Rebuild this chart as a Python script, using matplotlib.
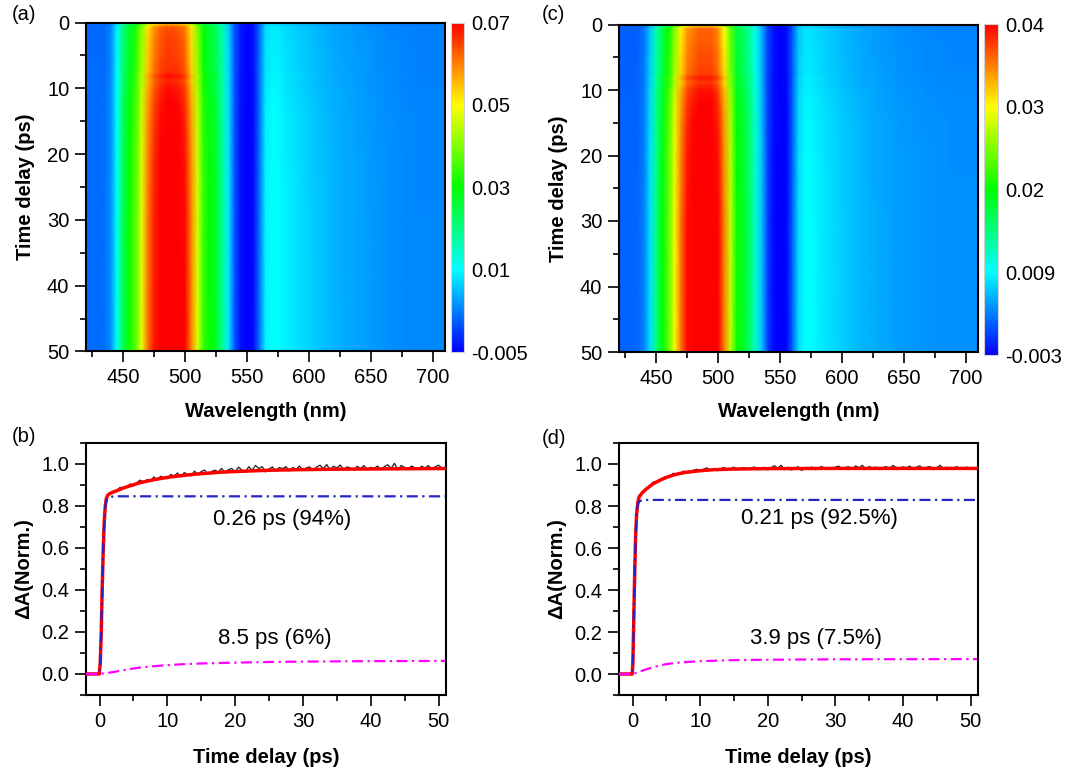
import numpy as np
import matplotlib
matplotlib.use('Agg')
import matplotlib.pyplot as plt
from matplotlib.colors import LinearSegmentedColormap, FuncNorm
from matplotlib.ticker import MultipleLocator, FormatStrFormatter

plt.rcParams['font.family'] = ['Liberation Sans', 'DejaVu Sans']
plt.rcParams['font.size'] = 14

# ---------------- heat-map data ----------------
wavelength = [420, 425, 430, 435, 440, 445, 450, 455, 460, 465, 470, 475, 480, 485, 490,
              495, 500, 505, 510, 515, 520, 525, 530, 535, 540, 545, 550, 555, 560, 565,
              570, 575, 580, 585, 590, 595, 600, 605, 610, 615, 620, 625, 630, 635, 640,
              645, 650, 655, 660, 665, 670, 675, 680, 685, 690, 695, 700, 705, 710]

spectrum_a = [0.0015, 0.0015, 0.0015, 0.0017, 0.0035, 0.011, 0.024, 0.031, 0.037, 0.048,
              0.061, 0.068, 0.072, 0.074, 0.074, 0.073, 0.070, 0.060, 0.047, 0.034,
              0.030, 0.027, 0.019, 0.009, 0.000, -0.004, -0.0055, -0.0045, 0.0015, 0.0095,
              0.0105, 0.0105, 0.0095, 0.009, 0.0085, 0.008, 0.0075, 0.007, 0.0066, 0.0062,
              0.0058, 0.0055, 0.0052, 0.005, 0.0047, 0.0045, 0.0042, 0.004, 0.0038, 0.0036,
              0.0034, 0.0033, 0.0032, 0.0031, 0.003, 0.003, 0.003, 0.003, 0.003]

spectrum_c = [0.0018, 0.0018, 0.0018, 0.0019, 0.003, 0.0075, 0.0145, 0.0195, 0.0235, 0.0295,
              0.0355, 0.0395, 0.041, 0.042, 0.042, 0.042, 0.040, 0.035, 0.0275, 0.0205,
              0.0185, 0.016, 0.0115, 0.0065, 0.000, -0.0025, -0.0035, -0.003, 0.0015, 0.0075,
              0.009, 0.009, 0.0085, 0.008, 0.0076, 0.0072, 0.0068, 0.0064, 0.0061, 0.0058,
              0.0055, 0.0053, 0.0051, 0.0049, 0.0047, 0.0045, 0.0044, 0.0043, 0.0042, 0.0041,
              0.004, 0.004, 0.0039, 0.0039, 0.0038, 0.0038, 0.0038, 0.0038, 0.0038]

time_map = [0, 0.3, 0.6, 1, 2, 3, 4, 5, 6, 7, 7.6, 8.2, 8.8, 10, 12, 15, 20, 25, 30, 40, 50]
kinetics_a = [0.35, 0.75, 0.84, 0.86, 0.87, 0.875, 0.88, 0.885, 0.89, 0.895, 0.9, 0.93, 0.905,
              0.925, 0.945, 0.96, 0.975, 0.985, 0.99, 0.995, 1.0]
kinetics_c = [0.35, 0.78, 0.85, 0.86, 0.865, 0.87, 0.875, 0.88, 0.885, 0.89, 0.895, 0.93, 0.9,
              0.935, 0.955, 0.97, 0.985, 0.99, 1.0, 1.0, 1.0]

levels_a = [-0.005, 0.01, 0.03, 0.05, 0.07]
labels_a = ['-0.005', '0.01', '0.03', '0.05', '0.07']
levels_c = [-0.003, 0.009, 0.02, 0.03, 0.04]
labels_c = ['-0.003', '0.009', '0.02', '0.03', '0.04']

# ---------------- kinetic traces ----------------
t_late = [2.0, 2.5, 3.0, 3.5, 4.0, 4.5, 5.0, 5.5, 6.0, 6.5,
          7.0, 7.5, 8.0, 8.5, 9.0, 9.5, 10.0, 10.5, 11.0, 11.5,
          12.0, 12.5, 13.0, 13.5, 14.0, 14.5, 15.0, 15.5, 16.0, 16.5,
          17.0, 17.5, 18.0, 18.5, 19.0, 19.5, 20.0, 20.5, 21.0, 21.5,
          22.0, 22.5, 23.0, 23.5, 24.0, 24.5, 25.0, 25.5, 26.0, 26.5,
          27.0, 27.5, 28.0, 28.5, 29.0, 29.5, 30.0, 30.5, 31.0, 31.5,
          32.0, 32.5, 33.0, 33.5, 34.0, 34.5, 35.0, 35.5, 36.0, 36.5,
          37.0, 37.5, 38.0, 38.5, 39.0, 39.5, 40.0, 40.5, 41.0, 41.5,
          42.0, 42.5, 43.0, 43.5, 44.0, 44.5, 45.0, 45.5, 46.0, 46.5,
          47.0, 47.5, 48.0, 48.5, 49.0, 49.5, 50.0, 50.5, 51.0]

t_early_b = [-2.0, -1.5, -1.0, -0.5, -0.2, 0.0, 0.1, 0.2, 0.3, 0.4, 0.5, 0.6, 0.7, 0.8,
             0.9, 1.0, 1.2, 1.4, 1.7]
y_early_b = [-0.003, 0.002, -0.002, 0.001, -0.002, 0.0, 0.05, 0.15, 0.3, 0.45, 0.6, 0.7,
             0.76, 0.80, 0.82, 0.835, 0.848, 0.856, 0.862]
y_late_b = [0.869, 0.866, 0.888, 0.886, 0.887, 0.904, 0.894, 0.910, 0.922, 0.912,
            0.924, 0.916, 0.937, 0.924, 0.940, 0.934, 0.929, 0.949, 0.942, 0.956,
            0.938, 0.958, 0.949, 0.942, 0.965, 0.948, 0.963, 0.970, 0.950, 0.963,
            0.969, 0.961, 0.978, 0.956, 0.972, 0.977, 0.960, 0.984, 0.970, 0.959,
            0.986, 0.969, 0.992, 0.977, 0.986, 0.961, 0.975, 0.985, 0.965, 0.982,
            0.977, 0.986, 0.966, 0.982, 0.974, 0.989, 0.969, 0.980, 0.985, 0.967,
            0.984, 0.993, 0.977, 0.996, 0.972, 0.988, 0.980, 0.994, 0.971, 0.985,
            0.980, 0.969, 0.988, 0.977, 0.991, 0.970, 0.983, 0.978, 0.989, 0.972,
            0.986, 0.995, 0.978, 1.002, 0.971, 0.992, 0.982, 0.973, 0.989, 0.981,
            0.972, 0.988, 0.980, 0.991, 0.974, 0.985, 0.993, 0.979, 0.983]

t_early_d = [-2.0, -1.5, -1.0, -0.5, -0.2, 0.0, 0.05, 0.1, 0.2, 0.3, 0.4, 0.5, 0.6, 0.7,
             0.8, 0.9, 1.0, 1.2, 1.5, 1.7]
y_early_d = [0.001, -0.002, 0.002, -0.001, 0.001, 0.0, 0.04, 0.12, 0.3, 0.45, 0.58, 0.68,
             0.76, 0.8, 0.82, 0.835, 0.845, 0.855, 0.866, 0.872]
y_late_d = [0.885, 0.890, 0.913, 0.916, 0.918, 0.935, 0.939, 0.936, 0.956, 0.953,
            0.952, 0.966, 0.963, 0.957, 0.970, 0.975, 0.963, 0.975, 0.982, 0.968,
            0.978, 0.968, 0.977, 0.983, 0.973, 0.978, 0.985, 0.972, 0.980, 0.983,
            0.973, 0.981, 0.986, 0.975, 0.980, 0.984, 0.972, 0.983, 0.992, 0.980,
            0.994, 0.973, 0.984, 0.971, 0.981, 0.987, 0.969, 0.983, 0.975, 0.986,
            0.973, 0.982, 0.988, 0.976, 0.981, 0.974, 0.985, 0.990, 0.977, 0.984,
            0.987, 0.976, 0.991, 0.982, 0.994, 0.974, 0.988, 0.981, 0.985, 0.973,
            0.982, 0.988, 0.976, 0.993, 0.984, 0.974, 0.987, 0.981, 0.990, 0.976,
            0.985, 0.991, 0.977, 0.984, 0.988, 0.973, 0.982, 0.994, 0.976, 0.985,
            0.974, 0.982, 0.987, 0.976, 0.981, 0.985, 0.973, 0.982, 0.981]

fit_t_b = [-2, -0.05, 0.1, 0.25, 0.4, 0.55, 0.7, 0.85, 1.0, 1.2, 1.5, 2, 3, 4, 5, 6, 7, 8,
           10, 12, 14, 16, 18, 20, 25, 30, 35, 40, 45, 51]
fit_y_b = [0, 0, 0.05, 0.2, 0.42, 0.6, 0.73, 0.8, 0.835, 0.85, 0.858, 0.865, 0.878, 0.89,
           0.9, 0.91, 0.917, 0.924, 0.935, 0.943, 0.95, 0.955, 0.96, 0.963, 0.969, 0.972,
           0.974, 0.975, 0.976, 0.977]
fast_t_b = [-2, -0.05, 0.1, 0.25, 0.4, 0.55, 0.7, 0.85, 1.0, 1.3, 1.7, 2.5, 51]
fast_y_b = [0, 0, 0.05, 0.2, 0.42, 0.6, 0.73, 0.8, 0.825, 0.838, 0.843, 0.845, 0.845]
slow_t_b = [-2, 0, 1, 2, 3, 4, 5, 6, 8, 10, 12, 15, 20, 25, 30, 40, 51]
slow_y_b = [0, 0, 0.004, 0.009, 0.015, 0.021, 0.026, 0.031, 0.037, 0.042, 0.046, 0.05,
            0.054, 0.057, 0.059, 0.061, 0.062]

fit_t_d = [-2, -0.05, 0.05, 0.15, 0.3, 0.45, 0.6, 0.8, 1.0, 1.5, 2, 3, 4, 5, 6, 7, 8, 10,
           12, 15, 20, 30, 51]
fit_y_d = [0, 0, 0.05, 0.2, 0.45, 0.65, 0.76, 0.82, 0.845, 0.865, 0.88, 0.905, 0.922,
           0.936, 0.947, 0.955, 0.961, 0.968, 0.973, 0.976, 0.978, 0.979, 0.979]
fast_t_d = [-2, -0.05, 0.05, 0.15, 0.3, 0.45, 0.6, 0.8, 1.0, 1.5, 2, 51]
fast_y_d = [0, 0, 0.05, 0.2, 0.45, 0.65, 0.76, 0.81, 0.822, 0.828, 0.829, 0.829]
slow_t_d = [-2, 0, 1, 2, 3, 4, 5, 7, 10, 15, 20, 30, 51]
slow_y_d = [0, 0, 0.01, 0.022, 0.032, 0.04, 0.047, 0.055, 0.061, 0.066, 0.068, 0.07, 0.071]

# ---------------- figure ----------------
W, H = 1065, 769
fig = plt.figure(figsize=(W / 100, H / 100), dpi=100)


def box(l, t, r, b):
    return [l / W, 1 - b / H, (r - l) / W, (b - t) / H]


cmap = LinearSegmentedColormap.from_list(
    'origin_rainbow', [(0, '#0000ff'), (0.25, '#00ffff'), (0.5, '#00ff00'),
                       (0.75, '#ffff00'), (1.0, '#ff0000')])


def make_norm(levels):
    pos = np.linspace(0, 1, len(levels))
    fwd = lambda x: np.interp(x, levels, pos)
    inv = lambda y: np.interp(y, pos, levels)
    return FuncNorm((fwd, inv), vmin=levels[0], vmax=levels[-1])


def style_axes(ax):
    for s in ax.spines.values():
        s.set_linewidth(1.5)
    ax.tick_params(which='both', direction='out', top=False, right=False, width=1.2,
                   labelsize=14.5, pad=4)
    ax.tick_params(which='major', length=8)
    ax.tick_params(which='minor', length=4.5)


def heatmap(axbox, cbox, spectrum, kinetics, levels, labels):
    ax = fig.add_axes(box(*axbox))
    Z = np.outer(np.array(kinetics), np.array(spectrum))
    norm = make_norm(levels)
    pcm = ax.pcolormesh(np.array(wavelength), np.array(time_map), Z, shading='gouraud',
                        cmap=cmap, norm=norm)
    ax.set_xlim(420, 710)
    ax.set_ylim(50, 0)
    ax.xaxis.set_major_locator(MultipleLocator(50))
    ax.xaxis.set_minor_locator(MultipleLocator(25))
    ax.yaxis.set_major_locator(MultipleLocator(10))
    ax.yaxis.set_minor_locator(MultipleLocator(5))
    style_axes(ax)
    ax.set_xlabel('Wavelength (nm)', fontsize=14.5, fontweight='bold')
    ax.set_ylabel('Time delay (ps)', fontsize=14.5, fontweight='bold')
    ax.xaxis.set_label_coords(0.5, -0.152)
    ax.yaxis.set_label_coords(-0.142, 0.5)
    cax = fig.add_axes(box(*cbox))
    cb = fig.colorbar(pcm, cax=cax)
    cb.set_ticks(levels)
    cb.set_ticklabels(labels)
    cb.outline.set_edgecolor('#d0d0d0')
    cb.outline.set_linewidth(0.8)
    cax.tick_params(length=0, labelsize=14.5, pad=5)
    return ax


def kinetic(axbox, t_data, y_data, ft, fy, fat, fay, slt, sly, txt1, pos1, txt2, pos2):
    ax = fig.add_axes(box(*axbox))
    ax.plot(t_data, y_data, color='#202020', lw=0.9, zorder=2)
    ax.plot(ft, fy, color='#ff0000', lw=2.5, zorder=3)
    ax.plot(fat, fay, color='#2424c8', lw=1.6, dashes=(5, 2, 1, 2), zorder=4)
    ax.plot(slt, sly, color='#ff00ff', lw=1.6, dashes=(5, 2, 1, 2), zorder=4)
    ax.set_xlim(-2, 51.1)
    ax.set_ylim(-0.1, 1.1)
    ax.xaxis.set_major_locator(MultipleLocator(10))
    ax.xaxis.set_minor_locator(MultipleLocator(5))
    ax.yaxis.set_major_locator(MultipleLocator(0.2))
    ax.yaxis.set_minor_locator(MultipleLocator(0.1))
    ax.yaxis.set_major_formatter(FormatStrFormatter('%.1f'))
    style_axes(ax)
    ax.set_xlabel('Time delay (ps)', fontsize=14.5, fontweight='bold')
    ax.set_ylabel('\u0394A(Norm.)', fontsize=14.5, fontweight='bold')
    ax.xaxis.set_label_coords(0.5, -0.21)
    ax.yaxis.set_label_coords(-0.147, 0.5)
    ax.text(pos1[0], pos1[1], txt1, fontsize=16, ha='center', va='center')
    ax.text(pos2[0], pos2[1], txt2, fontsize=16, ha='center', va='center')
    return ax


heatmap((86, 22.5, 445, 351.5), (451, 22.5, 464, 352), spectrum_a, kinetics_a, levels_a, labels_a)
heatmap((619, 24.5, 978, 352), (984, 24, 998, 355), spectrum_c, kinetics_c, levels_c, labels_c)

kinetic((86, 442.7, 446, 695), t_early_b + t_late, y_early_b + y_late_b,
        fit_t_b, fit_y_b, fast_t_b, fast_y_b, slow_t_b, slow_y_b,
        '0.26 ps (94%)', (27.0, 0.735), '8.5 ps (6%)', (25.9, 0.17))
kinetic((619, 443, 978, 695), t_early_d + t_late, y_early_d + y_late_d,
        fit_t_d, fit_y_d, fast_t_d, fast_y_d, slow_t_d, slow_y_d,
        '0.21 ps (92.5%)', (27.7, 0.74), '3.9 ps (7.5%)', (27.2, 0.167))

for lab, x, y in [('(a)', 12, 15), ('(b)', 12, 437), ('(c)', 542, 15), ('(d)', 542, 438)]:
    fig.text(x / W, 1 - y / H, lab, fontsize=14.5, ha='left', va='center')

fig.savefig('out.png', dpi=100)
